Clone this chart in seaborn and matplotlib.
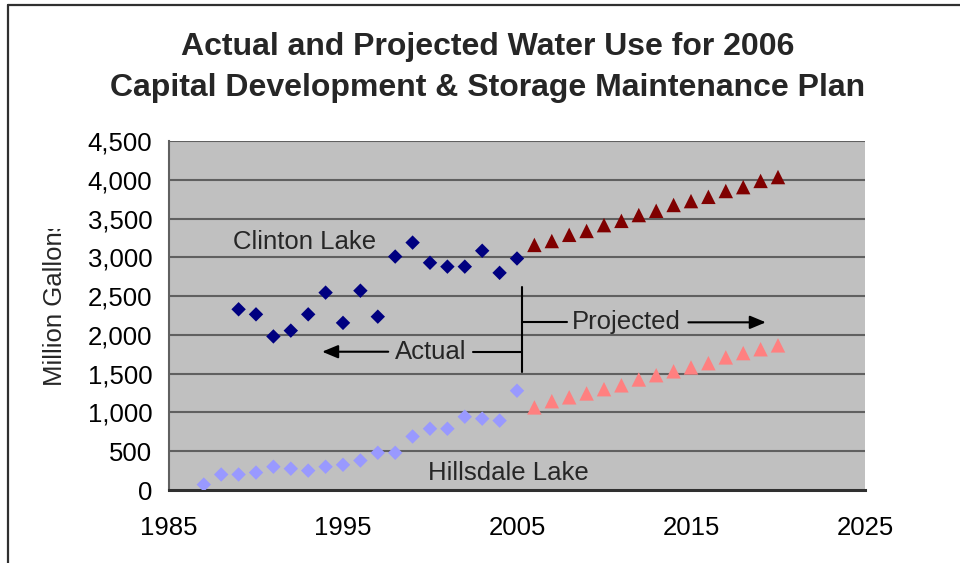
import matplotlib
matplotlib.use("Agg")
import matplotlib.pyplot as plt
import seaborn as sns
import pandas as pd
from matplotlib.lines import Line2D
from matplotlib.transforms import Bbox, TransformedBbox

# ---- data ----
clinton_actual_years = list(range(1989, 2006))
clinton_actual = [2330, 2265, 1980, 2055, 2265, 2545, 2155, 2570, 2235,
                  3010, 3190, 2930, 2880, 2880, 3085, 2800, 2985]
clinton_proj_years = list(range(2006, 2021))
clinton_proj = [3160, 3210, 3290, 3340, 3415, 3470, 3545, 3600, 3675,
                3725, 3780, 3855, 3905, 3985, 4035]
hills_actual_years = list(range(1987, 2006))
hills_actual = [70, 200, 200, 225, 300, 275, 250, 300, 325, 380, 480,
                480, 690, 790, 790, 945, 920, 895, 1280]
hills_proj_years = list(range(2006, 2021))
hills_proj = [1065, 1145, 1195, 1245, 1300, 1350, 1425, 1480, 1530,
              1580, 1635, 1710, 1765, 1815, 1865]

x_ticks = [1985, 1995, 2005, 2015, 2025]
y_ticks = [0, 500, 1000, 1500, 2000, 2500, 3000, 3500, 4000, 4500]
y_tick_labels = ["0", "500", "1,000", "1,500", "2,000", "2,500", "3,000",
                 "3,500", "4,000", "4,500"]

title_lines = ["Actual and Projected Water Use for 2006",
               "Capital Development & Storage Maintenance Plan"]

diam = pd.DataFrame({
    "year": clinton_actual_years + hills_actual_years,
    "value": clinton_actual + hills_actual,
    "series": ["Clinton actual"] * len(clinton_actual) + ["Hillsdale actual"] * len(hills_actual),
})
tri = pd.DataFrame({
    "year": clinton_proj_years + hills_proj_years,
    "value": clinton_proj + hills_proj,
    "series": ["Clinton projected"] * len(clinton_proj) + ["Hillsdale projected"] * len(hills_proj),
})
palette = {"Clinton actual": "#000080", "Hillsdale actual": "#9999FF",
           "Clinton projected": "#800000", "Hillsdale projected": "#FF8080"}

sns.set_theme(style="white")
plt.rcParams["font.family"] = ["Liberation Sans", "DejaVu Sans"]

W, H = 960, 563
fig = plt.figure(figsize=(9.6, 5.63), dpi=100)
L, R, T, B = 169, 865, 141, 490
ax = fig.add_axes([L / W, 1 - B / H, (R - L) / W, (B - T) / H])
ax.set_facecolor("#C0C0C0")

sns.scatterplot(data=diam, x="year", y="value", hue="series", palette=palette,
                marker="D", s=54, linewidth=0, legend=False, ax=ax, zorder=3)
sns.scatterplot(data=tri, x="year", y="value", hue="series", palette=palette,
                marker="^", s=108, linewidth=0, legend=False, ax=ax, zorder=3)

ax.set_xlim(1985, 2025)
ax.set_ylim(0, 4500)
ax.set_xticks(x_ticks)
ax.set_xticklabels([str(t) for t in x_ticks])
ax.set_yticks(y_ticks)
ax.set_yticklabels(y_tick_labels)
ax.set_xlabel("")
ax.set_ylabel("")
for yv in y_ticks[1:]:
    ax.axhline(yv, color="#606060", lw=1.5, zorder=1)

ax.tick_params(axis="both", which="both", labelsize=18.5, colors="black",
               direction="out", length=6, width=1.2)
ax.tick_params(axis="y", pad=6, color="#606060")
ax.tick_params(axis="x", pad=13, color="#404040")
ax.spines["top"].set_visible(False)
ax.spines["right"].set_visible(False)
ax.spines["left"].set_color("#606060")
ax.spines["left"].set_linewidth(1.5)
ax.spines["bottom"].set_color("#303030")
ax.spines["bottom"].set_linewidth(2.2)

# annotations
fs = 18.5
ax.text(1992.8, 3200, "Clinton Lake", fontsize=fs, ha="center", va="center")
ax.text(2004.5, 215, "Hillsdale Lake", fontsize=fs, ha="center", va="center")
ax.text(2000.05, 1783, "Actual", fontsize=fs, ha="center", va="center")
ax.text(2011.3, 2162, "Projected", fontsize=fs, ha="center", va="center")
ax.plot([2005.27, 2005.27], [1525, 2617], color="black", lw=1.5, zorder=4)
ax.plot([2002.45, 2005.27], [1783, 1783], color="black", lw=1.5, zorder=4)
ax.plot([2005.27, 2007.85], [2162, 2162], color="black", lw=1.5, zorder=4)
ax.annotate("", xy=(1993.8, 1783), xytext=(1997.6, 1783),
            arrowprops=dict(arrowstyle="-|>,head_length=0.6,head_width=0.25",
                            color="black", lw=1.5,
                            mutation_scale=16, shrinkA=0, shrinkB=0), zorder=4)
ax.annotate("", xy=(2019.3, 2162), xytext=(2014.85, 2162),
            arrowprops=dict(arrowstyle="-|>,head_length=0.6,head_width=0.25",
                            color="black", lw=1.5,
                            mutation_scale=16, shrinkA=0, shrinkB=0), zorder=4)

# title
fig.text(488 / W, 1 - 47 / H, title_lines[0], fontsize=23, fontweight="bold",
         ha="center", va="center")
fig.text(488 / W, 1 - 88 / H, title_lines[1], fontsize=23, fontweight="bold",
         ha="center", va="center")

# y label (clipped at top like the original)
yl = fig.text(55 / W, 1 - 302 / H, "Million Gallons", fontsize=18.5,
              rotation=90, ha="center", va="center")
yl.set_clip_box(TransformedBbox(Bbox([[0, 0], [1, 1 - 229 / H]]), fig.transFigure))
yl.set_clip_on(True)

# outer frame (left and top)
fig.add_artist(Line2D([8 / W, 8 / W], [0, 1 - 4.5 / H], transform=fig.transFigure,
                      color="#303030", lw=1.6))
fig.add_artist(Line2D([8 / W, 1], [1 - 4.5 / H, 1 - 4.5 / H], transform=fig.transFigure,
                      color="#303030", lw=1.6))

fig.savefig("out.png", dpi=100, facecolor="white")
